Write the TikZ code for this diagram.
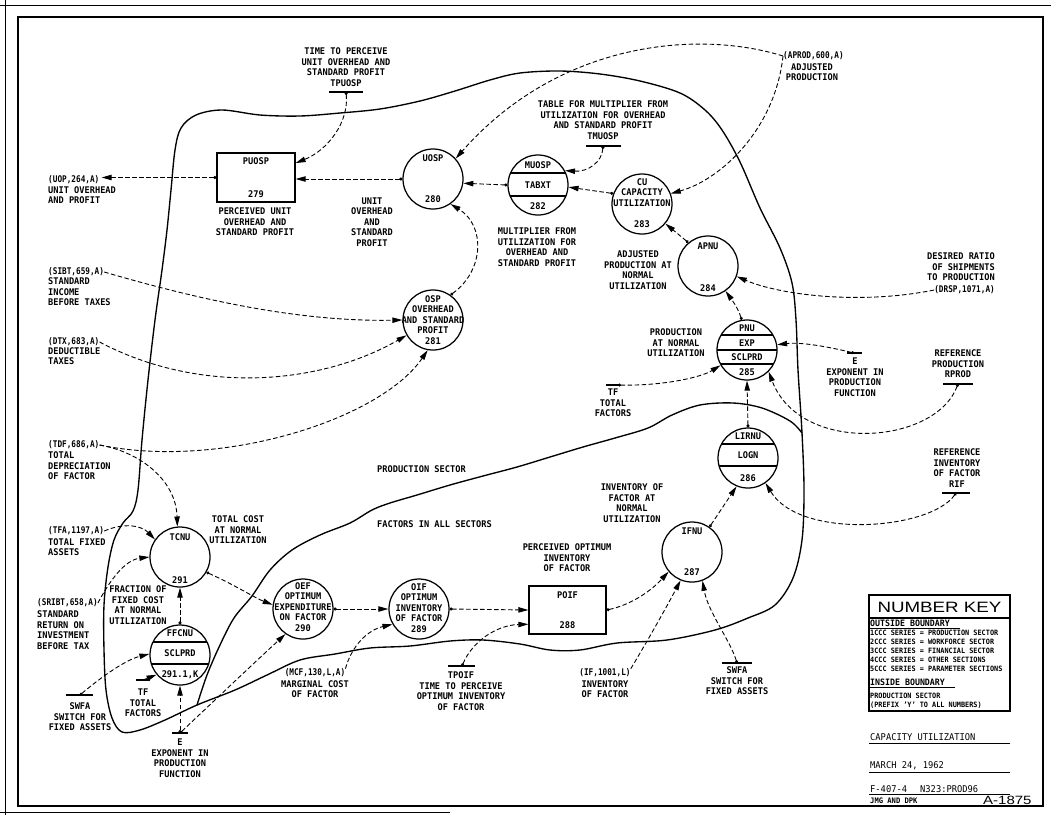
\documentclass[tikz,border=0pt]{standalone}
\usepackage{fontspec}
\setmainfont{DejaVu Sans Mono}[FakeStretch=0.94]
\newfontfamily\monoc{DejaVu Sans Mono}[FakeStretch=0.84]
\newfontfamily\widef{Liberation Sans}[FakeStretch=1.25]
\usetikzlibrary{arrows.meta}
\tikzset{
  lab/.style={font=\fontsize{9.2}{10.5}\selectfont\bfseries, align=center, inner sep=0pt},
  labl/.style={lab, align=left, anchor=west},
  labc/.style={font=\monoc\fontsize{9.2}{10.5}\selectfont\bfseries, inner sep=0pt},
  circ/.style={circle, draw, line width=1.25pt, minimum size=60pt, inner sep=0pt},
  boxn/.style={rectangle, draw, line width=1.25pt, inner sep=0pt},
  conn/.style={line width=0.9pt, dash pattern=on 4.5pt off 2.5pt, -{Triangle[length=10pt,width=5.4pt]}},
  connd/.style={conn, {Circle[length=3pt]}-{Triangle[length=10pt,width=5.4pt]}},
  bnd/.style={line width=1.35pt, line join=round, line cap=round},
  pbar/.style={line width=1.1pt},
  chord/.style={line width=1.05pt},
  keysm/.style={font=\fontsize{7.3}{8}\selectfont\bfseries, inner sep=0pt, anchor=west},
  titl/.style={font=\fontsize{9.3}{10}\selectfont, inner sep=0pt, anchor=west},
}
\begin{document}
\begin{tikzpicture}[x=1pt,y=-1pt]
\useasboundingbox (0,0) rectangle (1051,815);
% frame
\draw[line width=1.1pt] (18,17) rectangle (1043,806);
\draw[line width=0.8pt] (0,5) -- (1051,5);
\draw[line width=0.8pt] (5,0) -- (5,815);
\draw[line width=0.8pt] (0,812) -- (450,812);

% boundary loop
\draw[bnd] plot[smooth cycle, tension=0.55] coordinates {
(175,150) (181,128) (196,115) (222,110) (260,115) (300,116) (340,113) (380,109)
(420,101) (455,91) (490,80) (520,73) (560,71) (600,74) (640,81) (680,93) (705,110)
(722,130) (740,162) (760,208) (780,248) (792,283) (796,320) (798,370) (802,433)
(804,490) (802,540) (793,578) (775,605) (748,618) (715,630) (667,640) (617,643)
(580,650) (550,650) (520,644) (483,640) (450,641) (410,646) (370,648) (335,654)
(300,660) (267,675) (235,690) (197,705) (165,720) (140,730) (122,732) (112,718)
(106,690) (104,650) (104,605) (108,567) (114,540) (123,523) (133,511) (138,490)
(142,440) (148,380) (155,320) (162,270) (167,230) (171,190)};
% sector divider
\draw[bnd] plot[smooth, tension=0.55] coordinates {
(802,433) (790,421) (762,408) (733,403) (700,405) (672,415) (648,428) (615,438)
(583,447) (550,457) (517,467) (483,476) (450,485) (417,495) (390,503) (372,510)
(350,523) (320,535) (292,550) (270,570) (252,596) (234,618) (220,645) (207,675) (197,705)};

% ---------- level / auxiliary nodes ----------
\node[boxn, minimum width=78pt, minimum height=49pt] (puosp) at (256,177.5) {};
\node[lab] at (256,161) {PUOSP};
\node[lab] at (256,194) {279};

\node[circ] (uosp) at (433,179) {};
\node[lab] at (433,158) {UOSP};
\node[lab] at (433,199) {280};

\node[circ] (muosp) at (538,185) {};
\begin{scope}\clip (538,185) circle[radius=30pt];
\draw[chord] (500,173) -- (580,173) (500,196) -- (580,196);\end{scope}
\node[lab] at (538,165) {MUOSP};
\node[lab] at (538,185) {TABXT};
\node[lab] at (538,206) {282};

\node[circ] (cu) at (642,204) {};
\node[lab] at (642,192.5) {CU\\CAPACITY\\UTILIZATION};
\node[lab] at (642,224) {283};

\node[circ] (apnu) at (708,266) {};
\node[lab] at (708,246) {APNU};
\node[lab] at (708,288) {284};

\node[circ] (pnu) at (747,350) {};
\begin{scope}\clip (747,350) circle[radius=30pt];
\draw[chord] (710,335) -- (790,335) (710,350) -- (790,350) (710,364) -- (790,364);\end{scope}
\node[lab] at (747,328) {PNU};
\node[lab] at (747,343) {EXP};
\node[lab] at (747,357) {SCLPRD};
\node[lab] at (747,372) {285};

\node[circ] (lirnu) at (748,458) {};
\begin{scope}\clip (748,458) circle[radius=30pt];
\draw[chord] (710,444) -- (790,444) (710,466) -- (790,466);\end{scope}
\node[lab] at (748,436) {LIRNU};
\node[lab] at (748,455) {LOGN};
\node[lab] at (748,478) {286};

\node[circ] (ifnu) at (692,552) {};
\node[lab] at (692,531) {IFNU};
\node[lab] at (692,572) {287};

\node[circ] (osp) at (433,320) {};
\node[lab] at (433,320) {OSP\\OVERHEAD\\AND STANDARD\\PROFIT\\281};

\node[circ] (tcnu) at (180,557) {};
\node[lab] at (180,537) {TCNU};
\node[lab] at (180,580) {291};

\node[circ] (ffcnu) at (180,655) {};
\begin{scope}\clip (180,655) circle[radius=30pt];
\draw[chord] (140,642) -- (220,642) (140,664) -- (220,664);\end{scope}
\node[lab] at (180,633) {FFCNU};
\node[lab] at (180,653) {SCLPRD};
\node[lab] at (180,675) {291.1,K};

\node[circ] (oef) at (303,609) {};
\node[lab] at (303,607) {OEF\\OPTIMUM\\EXPENDITURE\\ON FACTOR\\290};
\node[circ] (oif) at (419,609) {};
\node[lab] at (419,608) {OIF\\OPTIMUM\\INVENTORY\\OF FACTOR\\289};

\node[boxn, minimum width=77pt, minimum height=48pt] (poif) at (567.5,610) {};
\node[lab] at (567.5,595) {POIF};
\node[lab] at (567.5,625) {288};

% ---------- descriptive labels ----------
\node[lab] at (255,222) {PERCEIVED UNIT\\OVERHEAD AND\\STANDARD PROFIT};
\node[lab] at (372,222) {UNIT\\OVERHEAD\\AND\\STANDARD\\PROFIT};
\node[lab] at (537,247) {MULTIPLIER FROM\\UTILIZATION FOR\\OVERHEAD AND\\STANDARD PROFIT};
\node[lab] at (638,270) {ADJUSTED\\PRODUCTION AT\\NORMAL\\UTILIZATION};
\node[lab] at (676,343) {PRODUCTION\\AT NORMAL\\UTILIZATION};
\node[lab] at (632,503) {INVENTORY OF\\FACTOR AT\\NORMAL\\UTILIZATION};
\node[lab] at (567,558) {PERCEIVED OPTIMUM\\INVENTORY\\OF FACTOR};
\node[lab] at (238,530) {TOTAL COST\\AT NORMAL\\UTILIZATION};
\node[lab] at (138,605) {FRACTION OF\\FIXED COST\\AT NORMAL\\UTILIZATION};
\node[lab, anchor=west] at (377,469) {PRODUCTION SECTOR};
\node[lab, anchor=west] at (377,524) {FACTORS IN ALL SECTORS};

% ---------- parameters (bars) ----------
\draw[pbar] (329,92) -- (363,92); \coordinate (tpuosp) at (346,92);
\node[lab] at (346,67) {TIME TO PERCEIVE\\UNIT OVERHEAD AND\\STANDARD PROFIT\\TPUOSP};
\draw[pbar] (586,146) -- (621,146); \coordinate (tmuosp) at (603,146);
\node[lab] at (603,120) {TABLE FOR MULTIPLIER FROM\\UTILIZATION FOR OVERHEAD\\AND STANDARD PROFIT\\TMUOSP};
\draw[pbar] (606,385) -- (619,385); \coordinate (tfr) at (618,385);
\node[lab] at (613,403) {TF\\TOTAL\\FACTORS};
\draw[pbar] (847,353) -- (862,353); \coordinate (er) at (854,353);
\node[lab] at (855,377) {E\\EXPONENT IN\\PRODUCTION\\FUNCTION};
\draw[pbar] (943,384) -- (973,384); \coordinate (rprod) at (958,384);
\node[lab] at (958,364) {REFERENCE\\PRODUCTION\\RPROD};
\draw[pbar] (942,493) -- (970,493); \coordinate (rif) at (956,493);
\node[lab] at (957,468) {REFERENCE\\INVENTORY\\OF FACTOR\\RIF};
\draw[pbar] (448,666) -- (475,666); \coordinate (tpoif) at (462,666);
\node[lab] at (461,691) {TPOIF\\TIME TO PERCEIVE\\OPTIMUM INVENTORY\\OF FACTOR};
\draw[pbar] (722,663) -- (752,663); \coordinate (swfar) at (737,663);
\node[lab] at (737,681) {SWFA\\SWITCH FOR\\FIXED ASSETS};
\draw[pbar] (66,695) -- (93,695); \coordinate (swfal) at (80,695);
\node[lab] at (80,717) {SWFA\\SWITCH FOR\\FIXED ASSETS};
\draw[pbar] (136,680) -- (150,680); \coordinate (tfl) at (143,680);
\node[lab] at (143,703) {TF\\TOTAL\\FACTORS};
\draw[pbar] (172,733) -- (188,733); \coordinate (ebot) at (180,733);
\node[lab] at (180,758) {E\\EXPONENT IN\\PRODUCTION\\FUNCTION};

% ---------- external variables ----------
\node[labc, anchor=west] (uoplab) at (48,180) {(UOP,264,A)};
\node[labl] at (48,195) {UNIT OVERHEAD\\AND PROFIT};
\node[labc, anchor=west] (sibtlab) at (48,272) {(SIBT,659,A)};
\node[labl] at (48,292) {STANDARD\\INCOME\\BEFORE TAXES};
\node[labc, anchor=west] (dtxlab) at (48,342) {(DTX,683,A)};
\node[labl] at (48,356) {DEDUCTIBLE\\TAXES};
\node[labc, anchor=west] (tdflab) at (48,445) {(TDF,686,A)};
\node[labl] at (48,466) {TOTAL\\DEPRECIATION\\OF FACTOR};
\node[labc, anchor=west] (tfalab) at (48,531) {(TFA,1197,A)};
\node[labl] at (48,547) {TOTAL FIXED\\ASSETS};
\node[labc, anchor=west] (sribtlab) at (37,603) {(SRIBT,658,A)};
\node[labl] at (37,630) {STANDARD\\RETURN ON\\INVESTMENT\\BEFORE TAX};
\node[labc, anchor=west] (aproblab) at (783,56) {(APROD,600,A)};
\node[lab] at (812,72) {ADJUSTED\\PRODUCTION};
\node[labc, anchor=east] (drsplab) at (995,290) {(DRSP,1071,A)};
\node[lab, align=right, anchor=east] at (995,267) {DESIRED RATIO\\OF SHIPMENTS\\TO PRODUCTION};
\node[labc] (mcflab) at (315,673) {(MCF,130,L,A)};
\node[lab] at (315,689) {MARGINAL COST\\OF FACTOR};
\node[labc] (iflab) at (605,673) {(IF,1001,L)};
\node[lab] at (605,689) {INVENTORY\\OF FACTOR};

% ---------- connectors ----------
\draw[connd, shorten >=2pt] (puosp.west) -- (uoplab.east |- puosp.west);
\draw[connd] (uosp.west) -- (puosp.east |- uosp.west);
\draw[connd] (tpuosp) .. controls (349,122) and (328,150) .. (puosp.20);
\draw[connd] (muosp.west) -- (uosp.-8);
\draw[connd] (cu.160) -- (muosp.-4);
\draw[connd] (tmuosp) .. controls (602,162) and (588,172) .. (muosp.28);
\draw[conn] (aproblab.west) .. controls (700,30) and (560,40) .. (uosp.42);
\draw[conn] (aproblab.west) .. controls (775,130) and (720,180) .. (cu.20);
\draw[connd] (apnu.130) -- (cu.-40);
\draw[connd] (pnu.100) .. controls (738,308) and (732,300) .. (apnu.-55);
\draw[connd] (tfr) .. controls (660,386) and (700,378) .. (pnu.-150);
\draw[connd] (er) .. controls (825,346) and (800,342) .. (pnu.10);
\draw[connd] (rprod) .. controls (935,445) and (800,455) .. (pnu.-45);
\draw[connd] (lirnu.90) -- (pnu.-90);
\draw[connd] (rif) .. controls (930,530) and (800,540) .. (lirnu.-55);
\draw[connd] (ifnu.55) -- (lirnu.-112);
\draw[conn] (drsplab.west) .. controls (860,305) and (780,295) .. (apnu.-20);
\draw[connd] (osp.55) .. controls (485,270) and (485,225) .. (uosp.-55);
\draw[conn] (sibtlab.east) .. controls (200,300) and (300,322) .. (osp.180);
\draw[conn] (dtxlab.east) .. controls (200,395) and (320,385) .. (osp.-150);
\draw[conn] (tdflab.east) .. controls (220,470) and (380,420) .. (osp.-100);
\draw[conn] (tdflab.east) .. controls (140,452) and (176,480) .. (tcnu.95);
\draw[conn] (tfalab.east) .. controls (125,522) and (142,526) .. (tcnu.145);
\draw[conn] (sribtlab.east) .. controls (110,580) and (125,560) .. (tcnu.180);
\draw[connd] (tcnu.-30) .. controls (235,585) and (255,598) .. (oef.172);
\draw[connd] (ffcnu.90) -- (tcnu.-90);
\draw[connd] (swfal) .. controls (100,678) and (125,660) .. (ffcnu.178);
\draw[connd] (ebot) -- (ffcnu.-90);
\draw[connd] (ebot) .. controls (215,700) and (255,662) .. (oef.-125);
\draw[conn] (tfl) -- (ffcnu.-140);
\draw[connd] (oef.0) -- (oif.180);
\draw[conn] (mcflab.north east) .. controls (352,645) and (368,630) .. (oif.-150);
\draw[connd] (oif.0) -- (poif.west);
\draw[connd] (tpoif) .. controls (473,640) and (498,625) .. (poif.-160);
\draw[connd] (poif.east) .. controls (630,605) and (650,592) .. (ifnu.-140);
\draw[conn] (iflab.north east) .. controls (645,645) and (665,610) .. (ifnu.-112);
\draw[connd] (swfar) .. controls (730,640) and (708,612) .. (ifnu.-70);

% ---------- number key ----------
\draw[line width=1.1pt] (869,595) rectangle (1010,711);
\draw[line width=1.1pt] (869,618) -- (1010,618);
\node[font=\widef\fontsize{15}{15}\selectfont, inner sep=0pt] at (939.5,607) {NUMBER KEY};
\node[font=\fontsize{8.8}{9}\selectfont\bfseries, inner sep=0pt, anchor=west] at (870,623) {OUTSIDE BOUNDARY};
\draw[line width=0.6pt] (870,628) -- (960,628);
\node[keysm] at (870,632.5) {1CCC SERIES = PRODUCTION SECTOR};
\node[keysm] at (870,641.5) {2CCC SERIES = WORKFORCE SECTOR};
\node[keysm] at (870,650.5) {3CCC SERIES = FINANCIAL SECTOR};
\node[keysm] at (870,659.5) {4CCC SERIES = OTHER SECTIONS};
\node[keysm] at (870,668.5) {5CCC SERIES = PARAMETER SECTIONS};
\node[font=\fontsize{8.8}{9}\selectfont\bfseries, inner sep=0pt, anchor=west] at (870,682) {INSIDE BOUNDARY};
\draw[line width=0.6pt] (870,687) -- (955,687);
\node[keysm] at (870,696) {PRODUCTION SECTOR};
\node[keysm] at (870,705) {(PREFIX 'Y' TO ALL NUMBERS)};

% ---------- title block ----------
\node[titl] at (870,737) {CAPACITY UTILIZATION};
\draw[line width=0.6pt] (869,743.5) -- (1010,743.5);
\node[titl] at (870,766) {MARCH 24, 1962};
\draw[line width=0.6pt] (869,772.5) -- (1010,772.5);
\node[titl] at (870,789) {F-407-4};
\node[titl] at (920,789) {N323:PROD96};
\draw[line width=0.6pt] (869,794.5) -- (1010,794.5);
\node[font=\fontsize{7.6}{8}\selectfont\bfseries, anchor=west, inner sep=0pt] at (870,801) {JMG AND DPK};
\node[font=\widef\fontsize{12}{12}\selectfont, anchor=west, inner sep=0pt] at (983,800) {A-1875};
\end{tikzpicture}
\end{document}
